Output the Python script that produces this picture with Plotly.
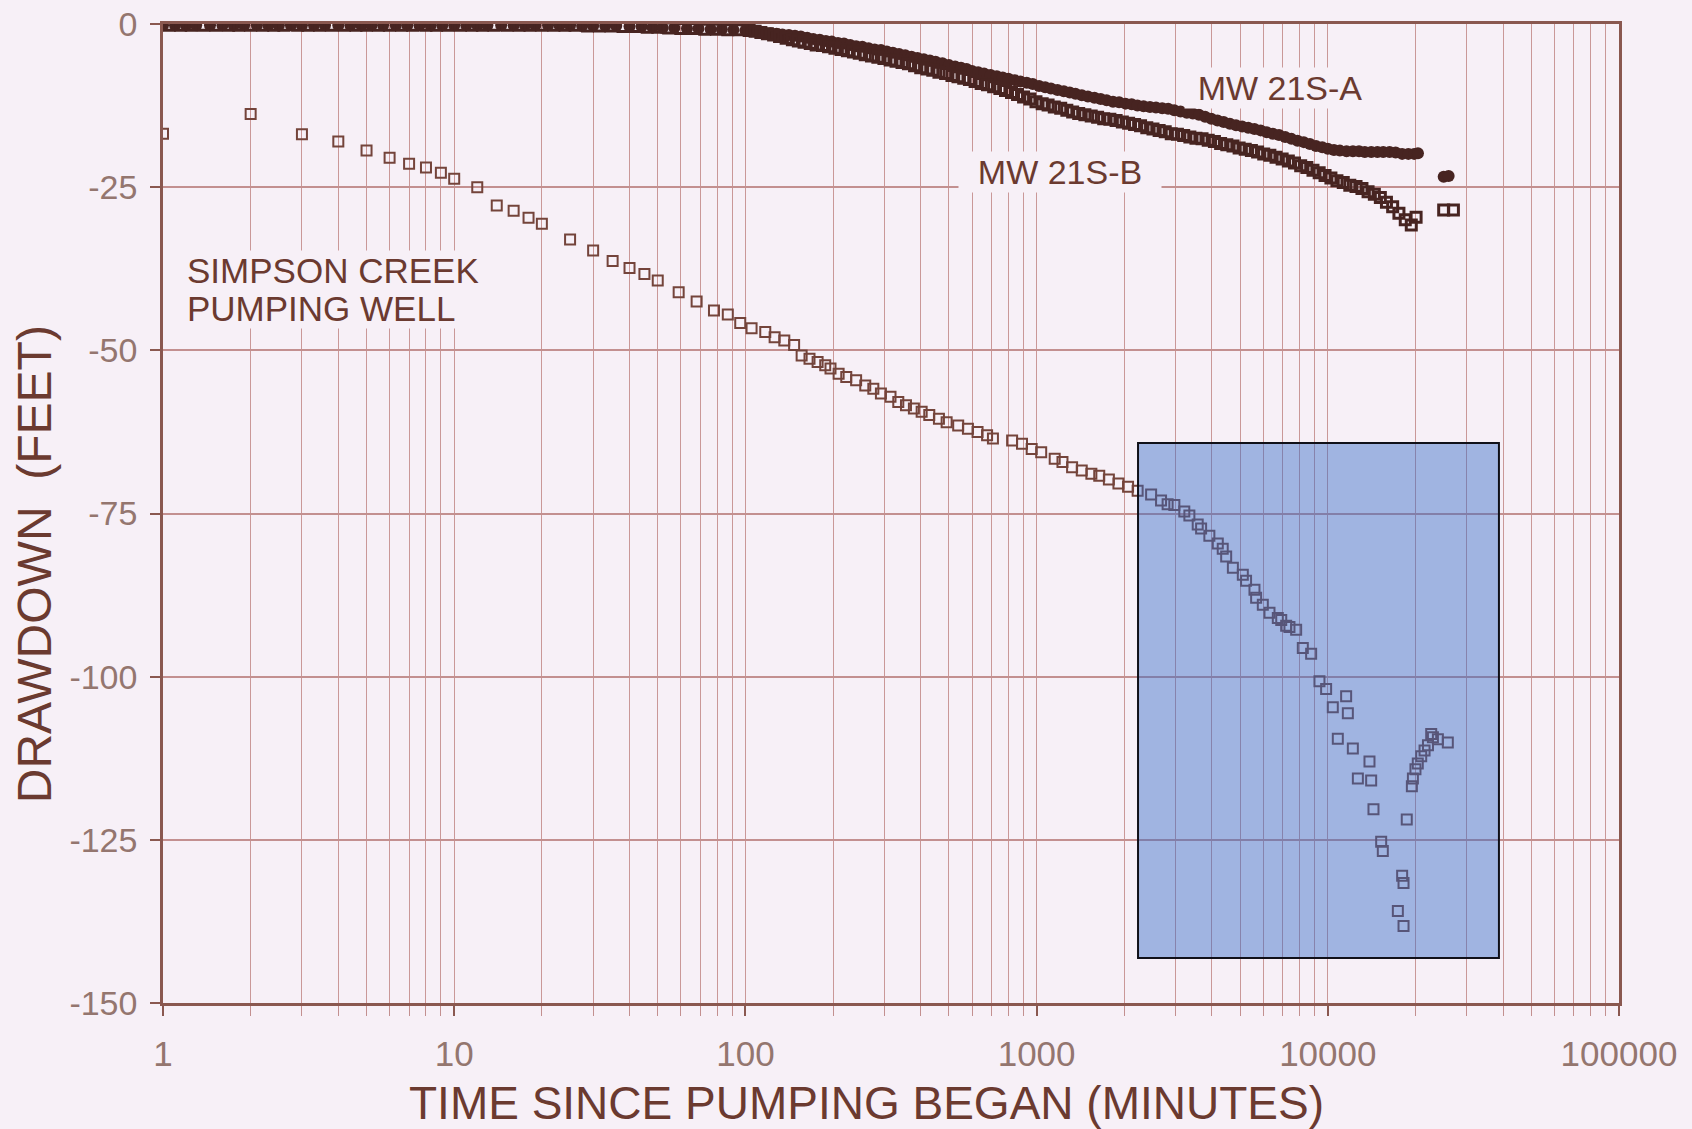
import math
import plotly.graph_objects as go

# ---------------- data ----------------
# Simpson Creek pumping well (minutes, feet)
well_time = [
    1, 2, 3, 4, 5, 6, 7, 8, 9, 10,
    12, 14, 16, 18, 20, 25, 30, 35, 40, 45,
    50, 59, 68, 78, 87, 96, 105, 117, 126, 136,
    147, 156, 166, 177, 188, 196, 209, 222, 240, 258,
    275, 292, 315, 335, 356, 379, 403, 428, 462, 491,
    538, 581, 627, 676, 708, 824, 891, 962, 1037, 1154,
    1227, 1324, 1429, 1542, 1641, 1771, 1910, 2061, 2223, 2473,
    2675, 2818, 2972, 3215, 3347, 3575, 3672, 3920, 4190, 4357,
    4477, 4721, 5107, 5240, 5600, 5674, 5982, 6306, 6735, 6920,
    7195, 7385, 7786, 8207, 8766, 9362, 9868, 10403, 11561, 11717,
    10824, 12190, 13904, 12683, 14090, 14350, 15250, 15450, 18000, 18200,
    17400, 18200, 18670, 19440, 19600, 20000, 20370, 20930, 21490, 22080,
    22650, 22960, 23880, 25830,
]
well_drawdown = [
    -16.8, -13.8, -16.9, -18.0, -19.4, -20.5, -21.4, -22.0, -22.8, -23.7,
    -25.0, -27.8, -28.6, -29.7, -30.6, -33.0, -34.7, -36.3, -37.4, -38.3,
    -39.3, -41.1, -42.5, -43.9, -44.5, -45.8, -46.6, -47.2, -48.0, -48.5,
    -49.2, -50.8, -51.3, -51.8, -52.3, -52.8, -53.6, -54.1, -54.6, -55.4,
    -55.9, -56.6, -57.1, -57.9, -58.4, -58.9, -59.4, -59.9, -60.5, -61.0,
    -61.5, -62.0, -62.5, -63.0, -63.5, -63.8, -64.3, -65.1, -65.6, -66.6,
    -67.1, -67.9, -68.4, -68.9, -69.2, -69.8, -70.4, -70.9, -71.5, -72.1,
    -73.0, -73.6, -73.7, -74.7, -75.3, -76.7, -77.3, -78.4, -79.6, -80.4,
    -81.6, -83.3, -84.4, -85.3, -86.7, -87.9, -89.0, -90.2, -91.0, -91.3,
    -92.2, -92.4, -92.8, -95.6, -96.5, -100.7, -101.9, -104.7, -103.0, -105.6,
    -109.5, -111.0, -113.0, -115.6, -115.9, -120.3, -125.3, -126.7, -130.5, -131.6,
    -135.9, -138.2, -121.9, -116.8, -115.6, -114.2, -113.3, -112.2, -111.3, -110.5,
    -108.8, -109.3, -109.6, -110.1,
]

# MW 21S-A observation well
mw_a_time = [
    1, 1.1, 1.2, 1.3, 1.45, 1.6, 1.75, 1.9, 2.1, 2.3,
    2.5, 2.75, 3, 3.3, 3.6, 4, 4.4, 4.8, 5.2, 5.7,
    6.3, 6.9, 7.6, 8.3, 9.1, 10, 11, 12, 13, 14.5,
    16, 17.5, 19, 21, 23, 25, 27.5, 30, 33, 36,
    40, 44, 48, 52, 57, 63, 69, 76, 83, 91,
    100, 105, 110, 116, 122, 128, 134, 141, 148, 155,
    163, 171, 180, 189, 198, 208, 218, 229, 240, 252,
    265, 278, 292, 306, 321, 337, 354, 372, 390, 410,
    430, 450, 475, 500, 525, 550, 575, 600, 630, 660,
    695, 730, 765, 800, 840, 880, 925, 970, 1020, 1070,
    1120, 1180, 1240, 1300, 1360, 1430, 1500, 1580, 1660, 1740,
    1830, 1920, 2020, 2120, 2220, 2330, 2450, 2570, 2700, 2830,
    2970, 3120, 3280, 3440, 3610, 3790, 3980, 4180, 4390, 4610,
    4840, 5080, 5330, 5600, 5880, 6170, 6480, 6800, 7140, 7500,
    7870, 8270, 8680, 9110, 9570, 10000, 10500, 11000, 11600, 12200,
    12800, 13400, 14100, 14800, 15500, 16300, 17100, 18000, 18900, 19800,
    20400, 25000, 26000,
]
mw_a_drawdown = [
    -0.2, -0.2, -0.2, -0.2, -0.2, -0.2, -0.2, -0.2, -0.2, -0.2,
    -0.2, -0.2, -0.2, -0.2, -0.2, -0.2, -0.2, -0.2, -0.2, -0.2,
    -0.2, -0.2, -0.2, -0.2, -0.2, -0.2, -0.2, -0.2, -0.2, -0.2,
    -0.2, -0.2, -0.2, -0.2, -0.2, -0.2, -0.3, -0.3, -0.3, -0.3,
    -0.4, -0.4, -0.5, -0.6, -0.6, -0.7, -0.7, -0.8, -0.8, -0.9,
    -1.0, -1.1, -1.2, -1.3, -1.4, -1.5, -1.6, -1.7, -1.8, -1.9,
    -2.1, -2.3, -2.4, -2.6, -2.7, -2.9, -3.0, -3.2, -3.4, -3.5,
    -3.7, -3.9, -4.0, -4.2, -4.4, -4.6, -4.8, -5.0, -5.2, -5.4,
    -5.6, -5.8, -6.0, -6.3, -6.5, -6.7, -6.9, -7.2, -7.4, -7.6,
    -7.8, -8.0, -8.2, -8.4, -8.6, -8.8, -9.0, -9.2, -9.5, -9.7,
    -9.9, -10.1, -10.3, -10.5, -10.7, -10.9, -11.1, -11.3, -11.5, -11.7,
    -11.9, -12.0, -12.2, -12.3, -12.5, -12.6, -12.7, -12.8, -12.9, -13.0,
    -13.2, -13.4, -13.6, -13.7, -13.9, -14.2, -14.5, -14.8, -15.0, -15.3,
    -15.5, -15.7, -15.9, -16.1, -16.3, -16.6, -16.8, -17.0, -17.3, -17.6,
    -17.9, -18.1, -18.4, -18.7, -18.9, -19.1, -19.3, -19.4, -19.5, -19.5,
    -19.5, -19.6, -19.6, -19.6, -19.6, -19.6, -19.7, -19.9, -19.9, -19.9,
    -19.8, -23.4, -23.3,
]

# MW 21S-B observation well
mw_b_time = [
    1.05, 1.15, 1.25, 1.38, 1.52, 1.68, 1.82, 2, 2.2, 2.4,
    2.6, 2.9, 3.15, 3.45, 3.8, 4.2, 4.6, 5, 5.5, 6,
    6.6, 7.2, 8, 8.7, 9.5, 10.5, 11.5, 12.5, 13.7, 15.2,
    16.7, 18.2, 20, 22, 24, 26, 28.7, 31.5, 34.5, 38,
    42, 46, 50, 54.5, 60, 66, 72.5, 79.5, 87, 95,
    103, 108, 113, 119, 125, 131, 138, 145, 152, 159,
    167, 175, 184, 193, 203, 213, 224, 235, 246, 258,
    271, 285, 299, 314, 329, 345, 363, 381, 400, 420,
    440, 462, 487, 512, 537, 562, 588, 615, 645, 678,
    712, 748, 782, 820, 860, 902, 948, 995, 1045, 1095,
    1150, 1210, 1270, 1330, 1395, 1465, 1540, 1620, 1700, 1785,
    1875, 1970, 2070, 2170, 2275, 2390, 2510, 2635, 2765, 2900,
    3045, 3200, 3360, 3525, 3700, 3885, 4080, 4285, 4500, 4725,
    4960, 5205, 5465, 5740, 6025, 6325, 6640, 6970, 7320, 7685,
    8070, 8475, 8895, 9340, 9785, 10250, 10750, 11300, 11900, 12500,
    13100, 13750, 14450, 15150, 15900, 16700, 17550, 18450, 19350, 20100,
    25000, 27000,
]
mw_b_drawdown = [
    -0.2, -0.2, -0.2, -0.2, -0.2, -0.2, -0.2, -0.2, -0.2, -0.2,
    -0.2, -0.2, -0.2, -0.2, -0.2, -0.2, -0.2, -0.2, -0.2, -0.2,
    -0.2, -0.2, -0.2, -0.2, -0.2, -0.2, -0.2, -0.2, -0.2, -0.2,
    -0.2, -0.2, -0.2, -0.2, -0.2, -0.2, -0.3, -0.3, -0.3, -0.4,
    -0.4, -0.5, -0.5, -0.6, -0.7, -0.7, -0.8, -0.8, -0.9, -0.9,
    -1.0, -1.1, -1.3, -1.5, -1.7, -1.9, -2.2, -2.4, -2.6, -2.8,
    -3.0, -3.2, -3.3, -3.5, -3.7, -3.9, -4.1, -4.3, -4.5, -4.7,
    -4.9, -5.1, -5.3, -5.5, -5.7, -5.9, -6.1, -6.4, -6.7, -6.9,
    -7.1, -7.4, -7.6, -7.9, -8.1, -8.3, -8.5, -8.8, -9.1, -9.3,
    -9.6, -9.9, -10.2, -10.5, -10.8, -11.2, -11.5, -11.9, -12.2, -12.4,
    -12.7, -12.9, -13.2, -13.5, -13.7, -13.9, -14.1, -14.3, -14.5, -14.6,
    -14.8, -15.0, -15.2, -15.4, -15.6, -15.9, -16.1, -16.3, -16.5, -16.8,
    -16.9, -17.1, -17.3, -17.5, -17.6, -17.8, -18.0, -18.3, -18.5, -18.7,
    -19.0, -19.2, -19.4, -19.6, -19.9, -20.1, -20.4, -20.7, -21.0, -21.3,
    -21.7, -22.0, -22.4, -22.8, -23.2, -23.6, -24.0, -24.3, -24.7, -24.9,
    -25.2, -25.7, -26.1, -26.6, -27.3, -28.0, -29.0, -30.0, -30.8, -29.6,
    -28.5, -28.5,
]

# axis ticks
x_ticks = [1, 10, 100, 1000, 10000, 100000]
x_tick_text = ["1", "10", "100", "1000", "10000", "100000"]
y_ticks = [0, -25, -50, -75, -100, -125, -150]
y_tick_text = ["0", "-25", "-50", "-75", "-100", "-125", "-150"]

# highlighted late-time window (minutes, feet)
window_time = [2230, 38700]
window_drawdown = [-64.2, -143.1]

# ---------------- styling ----------------
BG = "#f7f0f7"
INK = "#6b3a30"
DARK = "#472421"
TICK_INK = "#94766f"
GRID_H = "#c39090"
GRID_V = "#ca9898"
AXIS = "#8a5850"
FONT = "Liberation Sans, Arial, sans-serif"

fig = go.Figure()

fig.add_trace(go.Scatter(
    x=mw_a_time, y=mw_a_drawdown, mode="markers", name="MW 21S-A",
    marker=dict(symbol="circle", size=12, color=DARK, line=dict(width=0)),
))
fig.add_trace(go.Scatter(
    x=mw_b_time, y=mw_b_drawdown, mode="markers", name="MW 21S-B",
    marker=dict(symbol="square-open", size=10, color=DARK, line=dict(width=3)),
))
fig.add_trace(go.Scatter(
    x=well_time, y=well_drawdown, mode="markers", name="Simpson Creek pumping well",
    marker=dict(symbol="square-open", size=10, color="#74443b", line=dict(width=2)),
))

# translucent blue window over the late-time data
fig.add_shape(
    type="rect", xref="x", yref="y", layer="above",
    x0=window_time[0], x1=window_time[1],
    y0=window_drawdown[0], y1=window_drawdown[1],
    fillcolor="rgba(53,107,198,0.45)",
    line=dict(color="#101018", width=2),
)

# in-plot labels (annotation x on a log axis is given as log10)
def label(text, t, d, size, anchor="center", width=None, height=None):
    fig.add_annotation(
        x=math.log10(t), y=d, xref="x", yref="y", text=text, showarrow=False,
        xanchor=anchor, yanchor="middle", bgcolor=BG, borderpad=0,
        width=width, height=height,
        font=dict(family=FONT, size=size, color=INK),
    )

label("MW 21S-A", 10 ** 3.836, -9.8, 34, width=190, height=40)
label("MW 21S-B", 10 ** 3.080, -22.7, 34, width=202, height=40)
label("SIMPSON CREEK", 10 ** 0.079, -37.7, 35, anchor="left")
label("PUMPING WELL", 10 ** 0.079, -43.6, 35, anchor="left")

# axis titles
fig.add_annotation(
    text="TIME SINCE PUMPING BEGAN (MINUTES)", xref="paper", yref="paper",
    x=0.4835, y=-0.102, xanchor="center", yanchor="middle", showarrow=False,
    font=dict(family=FONT, size=46, color=INK),
)
fig.add_annotation(
    text="DRAWDOWN\u00a0\u00a0(FEET)", xref="paper", yref="paper",
    x=-0.088, y=0.448, xanchor="center", yanchor="middle", showarrow=False,
    textangle=-90, font=dict(family=FONT, size=48, color=INK),
)

fig.update_layout(
    width=1692, height=1129,
    margin=dict(l=163, r=73, t=24, b=126),
    paper_bgcolor=BG, plot_bgcolor=BG,
    showlegend=False,
    xaxis=dict(
        type="log", range=[0, 5], automargin=False,
        tickmode="array", tickvals=x_ticks, ticktext=x_tick_text,
        ticks="outside", ticklen=10, tickwidth=1.5, tickcolor=AXIS,
        tickfont=dict(family=FONT, size=35, color=TICK_INK),
        ticklabelstandoff=8,
        showgrid=True, gridcolor=GRID_V, gridwidth=1.3,
        minor=dict(dtick="D1", showgrid=True, gridcolor=GRID_V, gridwidth=1.1,
                   ticks="outside", ticklen=10, tickwidth=1, tickcolor=GRID_H),
        showline=True, linecolor=AXIS, linewidth=2.5, mirror=True,
        zeroline=False,
    ),
    yaxis=dict(
        range=[-150, 0], automargin=False,
        tickmode="array", tickvals=y_ticks, ticktext=y_tick_text,
        ticks="outside", ticklen=10, tickwidth=1.5, tickcolor=AXIS,
        tickfont=dict(family=FONT, size=34, color=TICK_INK),
        ticklabelstandoff=6,
        showgrid=True, gridcolor=GRID_H, gridwidth=2,
        showline=True, linecolor=AXIS, linewidth=2.5, mirror=True,
        zeroline=False,
    ),
)

fig.write_html("out.html")
